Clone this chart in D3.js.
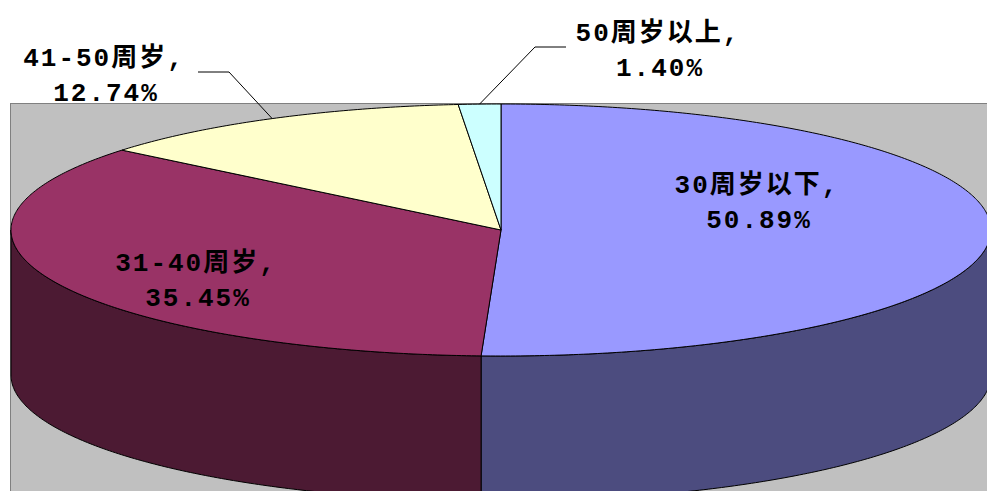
<!DOCTYPE html>
<html lang="zh">
<head>
<meta charset="utf-8">
<title>年龄分布 3D 饼图</title>
<script src="https://cdn.jsdelivr.net/npm/d3@7"></script>
<style>
body { margin: 0; background: #fff; }
.label {
  font-family: "Liberation Mono", "Noto Sans CJK SC", monospace;
  font-size: 26px;
  font-weight: bold;
  letter-spacing: 2px;
  fill: #000;
}
.leader { fill: none; stroke: #000; stroke-width: 1px; }
.slice { stroke: #000; stroke-width: 1px; stroke-linejoin: round; }
</style>
</head>
<body>
<script>
// ---- data ----
var categories = ["30周岁以下", "31-40周岁", "41-50周岁", "50周岁以上"];
var percents = [50.89, 35.45, 12.74, 1.40];
var percentLabels = ["50.89%", "35.45%", "12.74%", "1.40%"];

// ---- styles ----
var topColors = ["#9999ff", "#993366", "#ffffcc", "#ccffff"];
var sideColors = ["#4c4c7f", "#4c1a33", "#80806a", "#6a8080"];

var W = 987, H = 491;
var cx = 501, cy = 230, rx = 490, ry = 126, depth = 145;

// label anchor (centre x, first baseline) and optional leader elbows
var labelPos = [
  {x: 757, y: 193},
  {x: 196, y: 271},
  {x: 104, y: 66, leader: [[198, 72], [229, 72]]},
  {x: 658, y: 41, leader: [[566, 47], [535, 47]]}
];
var lineGap = 35;

var svg = d3.select("body").append("svg")
  .attr("width", W)
  .attr("height", H);

// plot area
svg.append("rect")
  .attr("x", 10.5).attr("y", 103.5)
  .attr("width", W + 10).attr("height", H)
  .attr("fill", "#c0c0c0")
  .attr("stroke", "#808080");

var pie = d3.pie().sort(null).value(function(d) { return d; });
var arcs = pie(percents);

function pt(a, dy) {
  return [cx + rx * Math.sin(a), cy - ry * Math.cos(a) + (dy || 0)];
}

function arcPoints(a0, a1, dy) {
  var n = Math.max(2, Math.ceil((a1 - a0) / 0.01));
  var pts = [];
  for (var i = 0; i <= n; i++) pts.push(pt(a0 + (a1 - a0) * i / n, dy));
  return pts;
}

var line = d3.line();

// outer walls (only front half is visible)
arcs.forEach(function(d, i) {
  var a0 = Math.max(d.startAngle, Math.PI / 2);
  var a1 = Math.min(d.endAngle, Math.PI * 3 / 2);
  if (a1 <= a0) return;
  var topPts = arcPoints(a0, a1, 0);
  var botPts = arcPoints(a0, a1, depth).reverse();
  svg.append("path")
    .attr("class", "slice")
    .attr("d", line(topPts.concat(botPts)) + "Z")
    .attr("fill", sideColors[i]);
});

// top faces
arcs.forEach(function(d, i) {
  var pts = [[cx, cy]].concat(arcPoints(d.startAngle, d.endAngle, 0));
  svg.append("path")
    .attr("class", "slice")
    .attr("d", line(pts) + "Z")
    .attr("fill", topColors[i]);
});

// leader lines
arcs.forEach(function(d, i) {
  var p = labelPos[i];
  if (!p.leader) return;
  var mid = (d.startAngle + d.endAngle) / 2;
  var end = pt(mid, 0);
  svg.append("path")
    .attr("class", "leader")
    .attr("d", line(p.leader.concat([end])));
});

// labels
arcs.forEach(function(d, i) {
  var p = labelPos[i];
  var t = svg.append("text")
    .attr("class", "label")
    .attr("text-anchor", "middle");
  t.append("tspan").attr("x", p.x).attr("y", p.y).text(categories[i] + ",");
  t.append("tspan").attr("x", p.x + 2).attr("y", p.y + lineGap).text(percentLabels[i]);
});
</script>
</body>
</html>
